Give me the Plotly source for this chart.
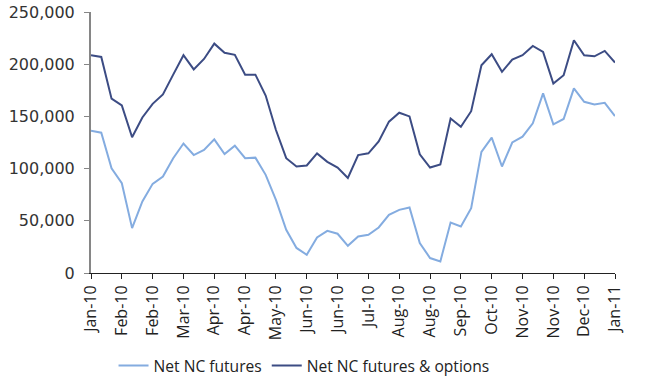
import plotly.graph_objects as go

# Weekly observations (52 weeks)
week_index = list(range(52))

net_nc_futures = [
    136300, 134400, 100300, 86000, 43000, 68500, 85400, 92400, 110000, 124000,
    113000, 117800, 128000, 114000, 122000, 110000, 110500, 94000, 70000, 41400,
    24000, 17500, 34000, 40400, 37600, 26000, 35000, 36600, 43600, 55700,
    60500, 62700, 28700, 14300, 11100, 48400, 44600, 62000, 116000, 129600,
    102000, 125000, 130600, 143300, 172000, 142400, 147500, 176800, 164000, 161500,
    163000, 150300,
]

net_nc_futures_options = [
    208600, 207000, 167000, 160500, 130000, 149000, 162000, 171000, 190000, 208600,
    195000, 205000, 219700, 211000, 209000, 190000, 190000, 170000, 137000, 110000,
    102000, 103000, 114500, 106500, 101000, 91000, 113000, 114600, 126000, 145000,
    153500, 150000, 113700, 101000, 104000, 148000, 140000, 155000, 199000, 209500,
    192700, 204500, 208600, 217500, 211800, 181500, 189500, 223000, 208600, 207600,
    212700, 201600,
]

tick_positions = list(range(0, 52, 3))
tick_labels = [
    "Jan-10", "Feb-10", "Feb-10", "Mar-10", "Apr-10", "Apr-10", "May-10", "Jun-10",
    "Jun-10", "Jul-10", "Aug-10", "Aug-10", "Sep-10", "Oct-10", "Nov-10", "Nov-10",
    "Dec-10", "Jan-11",
]

fig = go.Figure()
fig.add_trace(go.Scatter(
    x=week_index, y=net_nc_futures, mode="lines", name="Net NC futures",
    line=dict(color="#84ACE0", width=2),
))
fig.add_trace(go.Scatter(
    x=week_index, y=net_nc_futures_options, mode="lines", name="Net NC futures & options",
    line=dict(color="#3C4C84", width=2),
))

fig.update_layout(
    width=650, height=378,
    margin=dict(l=91, r=35, t=12, b=105, autoexpand=False),
    paper_bgcolor="white", plot_bgcolor="white",
    showlegend=True,
    legend=dict(
        orientation="h", x=0.043, xanchor="left",
        yref="container", y=0.032, yanchor="middle",
        font=dict(family="Open Sans", size=15.6, color="#222"),
        itemwidth=30, tracegroupgap=0,
    ),
    xaxis=dict(
        range=[0, 51], tickmode="array", tickvals=tick_positions, ticktext=tick_labels,
        tickangle=-90, showgrid=False, zeroline=False, automargin=False,
        showline=True, linecolor="#222", linewidth=1,
        ticks="outside", ticklen=5, tickcolor="#222",
        tickfont=dict(family="Open Sans", size=16, color="#222"),
    ),
    yaxis=dict(
        range=[0, 250000], dtick=50000, tickformat=",", showgrid=False, zeroline=False,
        automargin=False,
        showline=True, linecolor="#868686", linewidth=2,
        ticks="outside", ticklen=5, tickcolor="#868686", ticklabelstandoff=6,
        tickfont=dict(family="DejaVu Sans", size=16, color="#333"),
    ),
)

# Remove the page's default body margin so the figure sits at the window's corner.
fig.write_html(
    "out.html",
    config={"displayModeBar": False},
    post_script="document.body.style.margin='0';",
)
